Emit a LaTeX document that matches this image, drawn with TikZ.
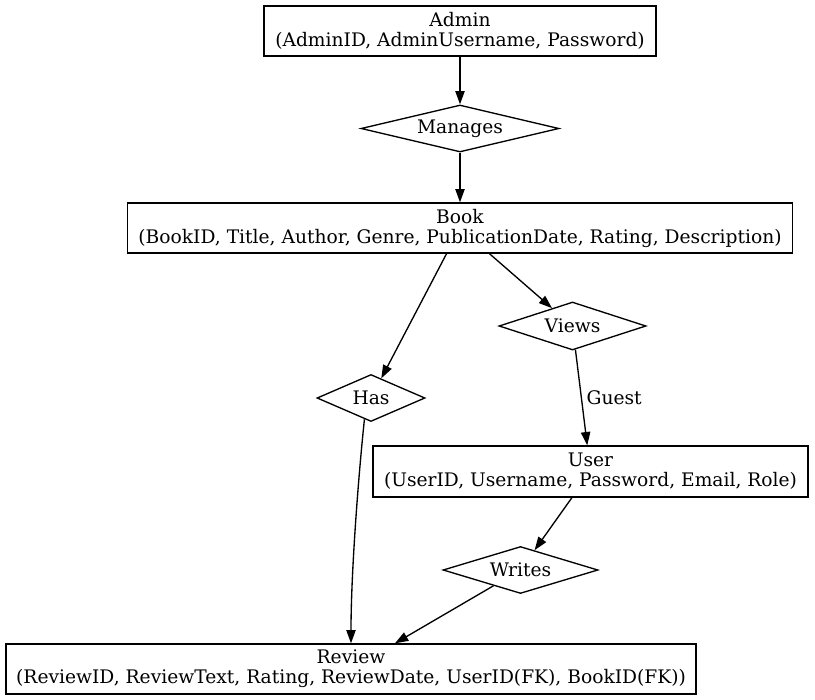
\documentclass[tikz,border=0pt]{standalone}
\usepackage{fontspec}
\setmainfont{DejaVu Serif}
\usetikzlibrary{shapes.geometric,arrows.meta,calc}
\begin{document}
\begin{tikzpicture}[x=0.75pt,y=-0.75pt,
  font=\fontsize{14}{15}\selectfont,
  every path/.style={line width=1pt},
  entity/.style={draw, rectangle, align=center, inner sep=0pt},
  rel/.style={draw, diamond, aspect=4, inner sep=0pt},
  arr/.style={-{Triangle[length=10pt,width=7pt]}}]
\useasboundingbox (0,0) rectangle (815,700);
\node[entity, minimum width=294pt, minimum height=37.5pt] (admin) at (460,31) {Admin\\(AdminID, AdminUsername, Password)};
\node[rel, minimum width=148.5pt, minimum height=35.25pt] (manages) at (460,128.5) {Manages};
\node[entity, minimum width=498.75pt, minimum height=37.5pt] (book) at (460,228) {Book\\(BookID, Title, Author, Genre, PublicationDate, Rating, Description)};
\node[rel, minimum width=110.25pt, minimum height=36pt] (views) at (572.5,326) {Views};
\node[rel, minimum width=81pt, minimum height=35.25pt] (has) at (371,398) {Has};
\node[entity, minimum width=326.25pt, minimum height=38.25pt] (user) at (590.5,471.5) {User\\(UserID, Username, Password, Email, Role)};
\node[rel, minimum width=116.25pt, minimum height=35.25pt] (writes) at (520.5,570) {Writes};
\node[entity, minimum width=517.5pt, minimum height=37.5pt] (review) at (351,669) {Review\\(ReviewID, ReviewText, Rating, ReviewDate, UserID(FK), BookID(FK))};
\draw[arr] (admin) -- (manages);
\draw[arr] (manages) -- (book);
\draw[arr] (book) -- (views);
\draw[arr] (book) -- (has);
\draw[arr] (views) -- node[midway, right, inner sep=3.5pt] {Guest} (user);
\draw[arr] (user) -- (writes);
\draw[arr] (writes) -- (review);
\draw[arr] ($(has.south)!0.12!(has.west)$) .. controls (359,470) and (351,570) .. (review.north);
\end{tikzpicture}
\end{document}
